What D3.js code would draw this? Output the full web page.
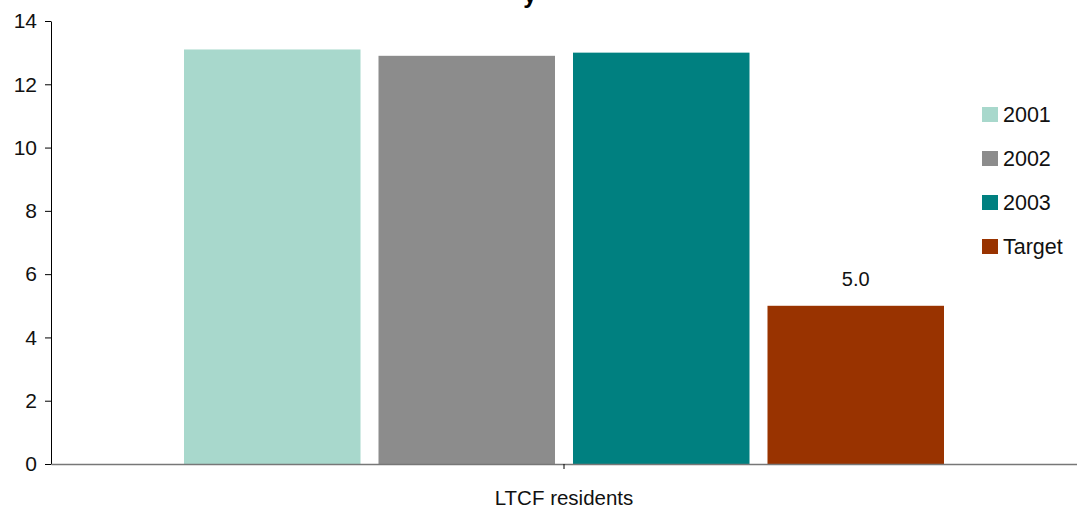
<!DOCTYPE html>
<html><head><meta charset="utf-8">
<script src="https://cdn.jsdelivr.net/npm/d3@7"></script>
<style>body{margin:0;background:#fff}svg{display:block}text{font-family:"Liberation Sans",Arial,sans-serif}</style>
</head><body><svg id="c" width="1077" height="510"></svg>
<script>
const categories = ["LTCF residents"];
const seriesNames = ["2001", "2002", "2003", "Target"];
const seriesValues = [13.1, 12.9, 13.0, 5.0];
const seriesColors = ["#a8d8cc", "#8c8c8c", "#008080", "#993300"];
const yTicks = [0, 2, 4, 6, 8, 10, 12, 14];
const labelShown = [false, false, false, true];

const svg = d3.select("#c");
const x0 = 51, x1 = 1077, yTop = 21, yBot = 464;

const y = d3.scaleLinear().domain([0, 14]).range([yBot, yTop]);
const xBand = d3.scaleBand().domain(categories).range([x0, x1]).paddingOuter(0.175).paddingInner(0);
const xs = d3.scaleBand().domain(seriesNames).range([0, xBand.bandwidth()]).paddingInner(0.0925).paddingOuter(0);

// title remnant (cut off at top of the picture)
svg.append("text").attr("x", 530).attr("y", 3).attr("text-anchor", "middle")
  .attr("font-size", 24).attr("font-weight", "bold").attr("fill", "#000").text("y");

const rows = seriesValues.map((v, i) => ({name: seriesNames[i], value: v, color: seriesColors[i], label: labelShown[i]}));

// bars
const g = svg.append("g").attr("transform", `translate(${xBand(categories[0])},0)`);
g.selectAll("rect").data(rows).join("rect")
  .attr("x", d => xs(d.name))
  .attr("width", xs.bandwidth())
  .attr("y", d => y(d.value))
  .attr("height", d => y(0) - y(d.value))
  .attr("fill", d => d.color);

g.selectAll("text.lbl").data(rows.filter(d => d.label)).join("text").attr("class", "lbl")
  .attr("x", d => xs(d.name) + xs.bandwidth() / 2)
  .attr("y", d => y(d.value) - 20)
  .attr("text-anchor", "middle").attr("font-size", 20).attr("fill", "#111")
  .text(d => d.value.toFixed(1));

// y axis
const ya = svg.append("g").attr("transform", `translate(${x0},0)`)
  .call(d3.axisLeft(y).tickValues(yTicks).tickSize(6).tickSizeOuter(0).tickPadding(8));
ya.select(".domain").attr("stroke", "#000");
ya.selectAll(".tick line").attr("stroke", "#000");
ya.selectAll(".tick text").attr("font-size", 21).attr("fill", "#111").attr("font-family", "Liberation Sans, Arial, sans-serif");

// x axis
const xa = svg.append("g").attr("transform", `translate(0,${yBot})`)
  .call(d3.axisBottom(xBand).tickSize(5).tickSizeOuter(0));
xa.select(".domain").attr("stroke", "#777").attr("stroke-width", 1.5);
xa.selectAll(".tick line").attr("stroke", "#000");
xa.selectAll(".tick text").attr("y", 41).attr("dy", null)
  .attr("font-size", 20.5).attr("fill", "#111").attr("font-family", "Liberation Sans, Arial, sans-serif");

// legend
const leg = svg.append("g").attr("transform", "translate(982,107)");
const li = leg.selectAll("g").data(rows).join("g")
  .attr("transform", (d, i) => `translate(0,${i * 44})`);
li.append("rect").attr("width", 16).attr("height", 15).attr("fill", d => d.color);
li.append("text").attr("x", 21).attr("y", 15)
  .attr("font-size", 21.5).attr("fill", "#111").text(d => d.name);
</script></body></html>
